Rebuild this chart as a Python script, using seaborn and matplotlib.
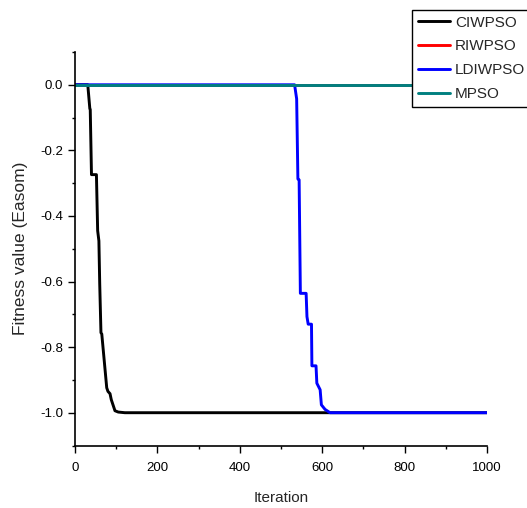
import seaborn as sns
import matplotlib.pyplot as plt
import pandas as pd
from matplotlib.ticker import MultipleLocator

# Convergence curves (iteration, fitness)
ciw_iter = [0, 31, 36, 37, 40, 52, 55, 58, 60, 63, 65, 77, 80, 85, 88, 97, 105, 121, 1000]
ciw_fit = [0, 0, -0.073, -0.075, -0.274, -0.274, -0.445, -0.476, -0.607, -0.756, -0.76,
           -0.924, -0.935, -0.942, -0.96, -0.994, -0.998, -1.0, -1.0]

riw_iter = [0, 1000]
riw_fit = [0, 0]

ldiw_iter = [0, 533, 538, 541, 544, 547, 561, 563, 566, 574, 575, 585, 587, 595, 598, 607, 619, 1000]
ldiw_fit = [0, 0, -0.043, -0.287, -0.29, -0.636, -0.636, -0.707, -0.73, -0.73, -0.857, -0.857,
            -0.91, -0.93, -0.976, -0.99, -1.0, -1.0]

mpso_iter = [0, 1000]
mpso_fit = [0, 0]

methods = ['CIWPSO', 'RIWPSO', 'LDIWPSO', 'MPSO']
colors = {'CIWPSO': '#000000', 'RIWPSO': '#ff0000', 'LDIWPSO': '#0000ff', 'MPSO': '#008080'}

parts = []
for name, xs, ys in [('CIWPSO', ciw_iter, ciw_fit), ('RIWPSO', riw_iter, riw_fit),
                     ('LDIWPSO', ldiw_iter, ldiw_fit), ('MPSO', mpso_iter, mpso_fit)]:
    parts.append(pd.DataFrame({'Iteration': xs, 'Fitness': ys, 'Method': name}))
df = pd.concat(parts, ignore_index=True)

sns.set_style('ticks')
plt.rcParams['font.family'] = ['Liberation Sans', 'DejaVu Sans']
plt.rcParams['axes.unicode_minus'] = False

fig = plt.figure(figsize=(5.27, 5.08), dpi=100)
ax = fig.add_axes([75 / 527, 1 - 445.5 / 508, 412 / 527, 393.5 / 508])

sns.lineplot(data=df, x='Iteration', y='Fitness', hue='Method', hue_order=methods,
             palette=colors, estimator=None, sort=False, linewidth=2.1, ax=ax)

ax.set_xlim(0, 1000)
ax.set_ylim(-1.1, 0.1)
ax.xaxis.set_major_locator(MultipleLocator(200))
ax.xaxis.set_minor_locator(MultipleLocator(100))
ax.yaxis.set_major_locator(MultipleLocator(0.2))
ax.yaxis.set_minor_locator(MultipleLocator(0.1))
ax.yaxis.set_major_formatter(plt.FormatStrFormatter('%.1f'))
ax.tick_params(which='major', length=5, width=1, labelsize=9.5, color='black', labelcolor='black')
ax.tick_params(axis='x', which='major', pad=7)
ax.tick_params(which='minor', length=2.5, width=1, color='black')
sns.despine(ax=ax)
for s in ['left', 'bottom']:
    ax.spines[s].set_linewidth(1.2)
    ax.spines[s].set_color('black')

ax.set_xlabel('Iteration', fontsize=11, labelpad=12)
ax.set_ylabel('Fitness value (Easom)', fontsize=12.5, labelpad=9)

handles, labels = ax.get_legend_handles_labels()
ax.legend(handles, labels, loc='upper left', bbox_to_anchor=(411.5 / 527, 1 - 9.5 / 508),
          bbox_transform=fig.transFigure, fontsize=11, frameon=True, fancybox=False,
          edgecolor='black', framealpha=1, handlelength=2.1, handletextpad=0.35,
          labelspacing=0.64, borderpad=0.4, borderaxespad=0)
ax.get_legend().get_frame().set_linewidth(1)

fig.savefig('out.png', dpi=100)
